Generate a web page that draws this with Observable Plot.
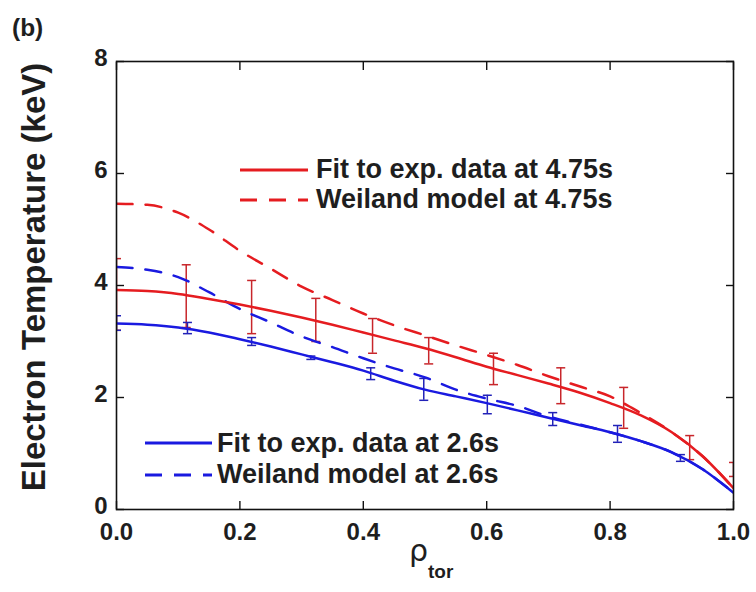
<!DOCTYPE html>
<html><head><meta charset="utf-8">
<script src="https://cdn.jsdelivr.net/npm/d3@7"></script>
<script src="https://cdn.jsdelivr.net/npm/@observablehq/plot@0.6"></script>
<style>
html,body{margin:0;padding:0;background:#fff;}
#chart{position:relative;width:756px;height:592px;}
</style></head><body><div id="chart"></div>
<script>
// ---- data ----
const rhoGrid = [0, 0.05, 0.1, 0.15, 0.2, 0.25, 0.3, 0.35, 0.4, 0.45, 0.5, 0.55, 0.6, 0.65, 0.7, 0.75, 0.8, 0.85, 0.9, 0.95, 1.0];
const fit475     = [3.92, 3.90, 3.85, 3.76, 3.66, 3.55, 3.43, 3.30, 3.16, 3.02, 2.88, 2.72, 2.55, 2.40, 2.25, 2.09, 1.90, 1.68, 1.38, 0.95, 0.38];
const weiland475 = [5.46, 5.44, 5.30, 5.00, 4.62, 4.30, 3.98, 3.74, 3.50, 3.29, 3.11, 2.93, 2.76, 2.58, 2.38, 2.20, 2.02, 1.72, 1.38, 0.95, 0.38];
const fit26      = [3.32, 3.30, 3.25, 3.16, 3.04, 2.91, 2.77, 2.63, 2.48, 2.30, 2.14, 2.02, 1.90, 1.77, 1.64, 1.51, 1.38, 1.22, 1.02, 0.72, 0.30];
const weiland26  = [4.33, 4.28, 4.15, 3.88, 3.58, 3.34, 3.09, 2.90, 2.70, 2.52, 2.36, 2.14, 1.98, 1.85, 1.66, 1.52, 1.38, 1.22, 1.02, 0.72, 0.30];

const errRho475 = [0, 0.113, 0.219, 0.323, 0.415, 0.506, 0.611, 0.72, 0.822, 0.929, 1.0];
const errLo475  = [3.20, 3.25, 3.14, 3.00, 2.79, 2.60, 2.23, 1.89, 1.45, 0.89, 0.59];
const errHi475  = [4.48, 4.37, 4.09, 3.77, 3.41, 3.07, 2.79, 2.53, 2.18, 1.32, 0.84];
const errRho26  = [0, 0.115, 0.219, 0.315, 0.412, 0.498, 0.601, 0.707, 0.812, 0.914];
const errLo26   = [3.20, 3.14, 2.93, 2.68, 2.32, 1.95, 1.71, 1.50, 1.20, 0.86];
const errHi26   = [3.46, 3.34, 3.07, 2.74, 2.53, 2.34, 2.04, 1.73, 1.50, 0.98];

const xTicks = [0, 0.2, 0.4, 0.6, 0.8, 1.0];
const yTicks = [0, 2, 4, 6, 8];
const legendLabels = ["Fit to exp. data at 4.75s", "Weiland model at 4.75s", "Fit to exp. data at 2.6s", "Weiland model at 2.6s"];
const yLabel = "Electron Temperature (keV)";
const panelLabel = "(b)";

// ---- build tables ----
const series = (vals) => rhoGrid.map((r, i) => ({rho: r, te: vals[i]}));
const bars = (rho, lo, hi) => rho.map((r, i) => ({rho: r, lo: lo[i], hi: hi[i]}));
const caps = (rho, lo, hi) => rho.flatMap((r, i) => [{rho: r, te: lo[i]}, {rho: r, te: hi[i]}]);

const red = "#e51c20", blue = "#1a1ae0", redBar = "#c8262b", blueBar = "#2222b8";
const capSymbol = {draw(ctx, size) { const w = Math.sqrt(size / Math.PI); ctx.moveTo(-w, 0); ctx.lineTo(w, 0); }};
const FONT = "'Liberation Sans', Arial, Helvetica, sans-serif";

const W = 756, H = 592;
const plot = Plot.plot({
  width: W, height: H,
  marginLeft: 116, marginRight: 23, marginTop: 61, marginBottom: 83,
  style: {fontFamily: FONT, fontSize: "24px", fontWeight: "bold", color: "#1e1e1e", background: "#fff", overflow: "visible"},
  x: {domain: [0, 1]},
  y: {domain: [0, 8]},
  marks: [
    Plot.ruleX(bars(errRho475, errLo475, errHi475), {x: "rho", y1: "lo", y2: "hi", stroke: redBar, strokeWidth: 1.5, clip: true}),
    Plot.dot(caps(errRho475, errLo475, errHi475), {x: "rho", y: "te", symbol: capSymbol, r: 4.5, fill: "none", stroke: redBar, strokeWidth: 1.5, clip: true}),
    Plot.ruleX(bars(errRho26, errLo26, errHi26), {x: "rho", y1: "lo", y2: "hi", stroke: blueBar, strokeWidth: 1.5, clip: true}),
    Plot.dot(caps(errRho26, errLo26, errHi26), {x: "rho", y: "te", symbol: capSymbol, r: 4.5, fill: "none", stroke: blueBar, strokeWidth: 1.5, clip: true}),
    Plot.line(series(weiland475), {x: "rho", y: "te", stroke: red, strokeWidth: 2.5, strokeDasharray: "16,13", curve: "monotone-x", clip: true}),
    Plot.line(series(weiland26), {x: "rho", y: "te", stroke: blue, strokeWidth: 2.5, strokeDasharray: "16,13", curve: "monotone-x", clip: true}),
    Plot.line(series(fit475), {x: "rho", y: "te", stroke: red, strokeWidth: 2.5, curve: "monotone-x", clip: true}),
    Plot.line(series(fit26), {x: "rho", y: "te", stroke: blue, strokeWidth: 2.5, curve: "monotone-x", clip: true}),
    Plot.frame({stroke: "#111", strokeWidth: 1.6}),
    // inward tick marks on all four sides
    Plot.axisY({ticks: yTicks, tickSize: 8, insetLeft: 8, fill: "none", label: null, stroke: "#111", strokeWidth: 1.4}),
    Plot.axisY({anchor: "right", ticks: yTicks, tickSize: 8, insetRight: 8, fill: "none", label: null, stroke: "#111", strokeWidth: 1.4}),
    Plot.axisX({ticks: xTicks, tickSize: 8, insetBottom: 8, fill: "none", label: null, stroke: "#111", strokeWidth: 1.4}),
    Plot.axisX({anchor: "top", ticks: xTicks, tickSize: 8, insetTop: 8, fill: "none", label: null, stroke: "#111", strokeWidth: 1.4}),
    // tick labels
    Plot.axisY({ticks: yTicks, tickSize: 0, tickPadding: 9, dy: -3, label: null, tickFormat: d => String(d)}),
    Plot.axisX({ticks: xTicks, tickSize: 0, tickPadding: 13, label: null, tickFormat: d3.format(".1f")})
  ]
});
document.getElementById("chart").appendChild(plot);

// ---- texts and legend ----
const svg = d3.select(plot);
const g = svg.append("g").attr("font-family", FONT).attr("fill", "#1e1e1e").attr("text-anchor", "start");

g.append("text").attr("x", 12).attr("y", 36).attr("font-size", 24.5).attr("font-weight", "bold").text(panelLabel);

g.append("text").attr("transform", "translate(45,277) rotate(-90)").attr("text-anchor", "middle")
  .attr("font-size", 33).attr("font-weight", "bold").text(yLabel);

g.append("text").attr("x", 409).attr("y", 561).attr("font-size", 30).attr("font-weight", "normal")
  .attr("font-family", "'DejaVu Sans', sans-serif").text("ρ");
g.append("text").attr("x", 428).attr("y", 578).attr("font-size", 19).attr("font-weight", "bold").text("tor");

const legendItems = [
  {x1: 240, x2: 308, ly: 170, ty: 178, tx: 316, color: red, dash: null, label: legendLabels[0]},
  {x1: 240, x2: 308, ly: 200, ty: 208, tx: 316, color: red, dash: "17,12", label: legendLabels[1]},
  {x1: 145, x2: 212, ly: 443, ty: 452, tx: 217, color: blue, dash: null, label: legendLabels[2]},
  {x1: 145, x2: 212, ly: 475, ty: 483, tx: 217, color: blue, dash: "17,12", label: legendLabels[3]}
];
for (const it of legendItems) {
  const ln = g.append("line").attr("x1", it.x1).attr("x2", it.x2).attr("y1", it.ly).attr("y2", it.ly)
    .attr("stroke", it.color).attr("stroke-width", 3);
  if (it.dash) ln.attr("stroke-dasharray", it.dash);
  g.append("text").attr("x", it.tx).attr("y", it.ty).attr("font-size", 27).attr("font-weight", "bold").text(it.label);
}
</script>
</body></html>
